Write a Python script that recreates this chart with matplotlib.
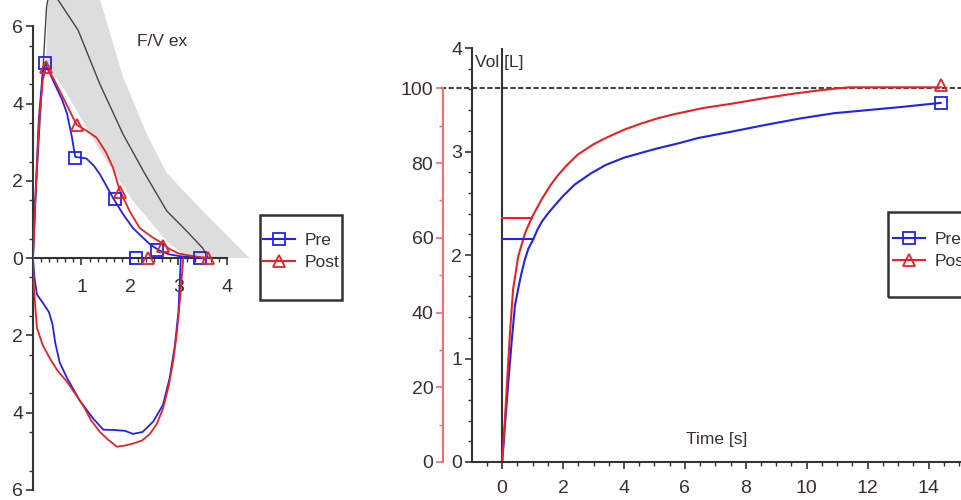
#!/usr/bin/env python3
# -*- coding: utf-8 -*-

import matplotlib
matplotlib.use("Agg")

import matplotlib.pyplot as plt
from matplotlib.ticker import MultipleLocator, FixedLocator
from matplotlib.patches import Rectangle
from matplotlib.lines import Line2D

plt.rcParams['font.family'] = ['Liberation Sans', 'DejaVu Sans']

# ---- flow / volume loop (left) ----
pred_x = [0, 0.05, 0.28, 0.35, 0.93, 1.38, 1.86, 2.3, 2.76, 3.17, 3.5, 3.62]
pred_y = [0, 1.5, 6.5, 7.0, 5.9, 4.5, 3.2, 2.2, 1.22, 0.7, 0.26, 0.0]

band_x = [0.27, 0.33, 1.2, 1.38, 1.86, 2.35, 2.76, 3.44, 4.12, 4.47, 3.2, 2.76, 2.06, 1.38, 0.62, 0.27]
band_y = [5.0, 8.0, 8.0, 6.7, 4.68, 3.2, 2.2, 1.3, 0.44, 0.0, 0.0, 0.44, 1.48, 2.78, 4.42, 5.0]

fv_pre_x = [0, 0.05, 0.12, 0.2, 0.25, 0.45, 0.6, 0.7, 0.8, 0.87, 1.1, 1.25, 1.38, 1.5, 1.65,
            1.85, 2.06, 2.25, 2.41, 2.6, 2.8, 3.03, 3.3, 3.5]
fv_pre_y = [0, 1.6, 3.6, 4.8, 5.05, 4.5, 4.1, 3.75, 3.15, 2.62, 2.58, 2.4, 2.17, 1.9, 1.56,
            1.15, 0.78, 0.55, 0.36, 0.2, 0.1, 0.05, 0.02, 0]
fv_pre_mx = [0.25, 0.87, 1.69, 2.12, 2.55, 3.44]
fv_pre_my = [5.05, 2.6, 1.52, 0.0, 0.22, 0.0]

fv_post_x = [0, 0.05, 0.12, 0.2, 0.27, 0.4, 0.62, 0.8, 0.9, 1.1, 1.31, 1.5, 1.65, 1.79, 2.0,
             2.2, 2.45, 2.62, 2.8, 3.0, 3.3, 3.62]
fv_post_y = [0, 1.5, 3.4, 4.6, 4.95, 4.7, 4.16, 3.7, 3.45, 3.3, 3.12, 2.75, 2.34, 1.75, 1.2,
             0.78, 0.55, 0.42, 0.25, 0.12, 0.05, 0]
fv_post_mx = [0.27, 0.9, 1.79, 2.37, 2.68, 3.62]
fv_post_my = [4.95, 3.45, 1.72, 0.0, 0.31, 0.0]

ins_pre_x = [0, 0.03, 0.08, 0.2, 0.33, 0.4, 0.46, 0.55, 0.7, 0.97, 1.24, 1.45, 1.7, 1.9, 2.06,
             2.26, 2.48, 2.68, 2.82, 2.93, 3.0, 3.05]
ins_pre_y = [0, -0.5, -0.94, -1.15, -1.4, -1.7, -2.2, -2.7, -3.1, -3.7, -4.15, -4.44, -4.45,
             -4.47, -4.55, -4.5, -4.23, -3.8, -3.1, -2.23, -1.38, 0]

ins_post_x = [0, 0.02, 0.08, 0.2, 0.35, 0.5, 0.7, 1.03, 1.2, 1.38, 1.55, 1.73, 1.9, 2.06,
              2.25, 2.41, 2.55, 2.68, 2.8, 2.89, 2.97, 3.03, 3.1]
ins_post_y = [0, -0.8, -1.8, -2.25, -2.6, -2.9, -3.2, -3.8, -4.2, -4.5, -4.7, -4.88, -4.85,
              -4.8, -4.72, -4.55, -4.3, -3.9, -3.3, -2.68, -1.9, -1.1, 0]

fv_yticks = [-6, -4, -2, 0, 2, 4, 6]
fv_yticklabels = ['6', '4', '2', '0', '2', '4', '6']
fv_xticks = [1, 2, 3, 4]

# ---- volume / time (right) ----
t_pre = [0, 0.1, 0.21, 0.32, 0.42, 0.53, 0.64, 0.75, 0.86, 1.02, 1.15, 1.3, 1.5, 1.73, 2.0,
         2.38, 2.92, 3.4, 4.0, 4.6, 5.1, 5.8, 6.43, 7.5, 8.7, 9.8, 10.9, 12.0, 13.1, 14.4]
v_pre = [0, 0.38, 0.8, 1.19, 1.51, 1.68, 1.83, 1.96, 2.06, 2.15, 2.24, 2.32, 2.40, 2.48, 2.57,
         2.68, 2.79, 2.87, 2.94, 2.99, 3.03, 3.08, 3.13, 3.19, 3.26, 3.32, 3.37, 3.40, 3.43, 3.47]
t_post = [0, 0.09, 0.18, 0.25, 0.36, 0.53, 0.75, 0.97, 1.3, 1.6, 1.83, 2.1, 2.48, 3.0, 3.47,
          4.0, 4.56, 5.1, 5.64, 6.6, 7.5, 8.7, 9.6, 10.4, 11.0, 11.4, 12.5, 14.4]
v_post = [0, 0.41, 0.86, 1.22, 1.67, 1.99, 2.21, 2.36, 2.54, 2.68, 2.77, 2.86, 2.97, 3.07, 3.14,
          3.21, 3.27, 3.32, 3.36, 3.42, 3.46, 3.52, 3.56, 3.59, 3.61, 3.62, 3.62, 3.62]
pre_level = 2.15
post_level = 2.36
pre_level_end = 1.02
post_level_end = 0.97
end_t = 14.4
pre_end = 3.47
post_end = 3.64
vol_pred = 3.61  # 100 %

pct_ticks = [0, 20, 40, 60, 80, 100]

BLUE = '#2222ee'
RED = '#e82222'
TXT = '#3a2f2a'
AX = '#333333'
PCT = '#f07070'
FS = 14

fig = plt.figure(figsize=(9.62, 5.0), dpi=100)

# ================= left panel =================
ax1 = fig.add_axes([33/962, 0, 223/962, 1])
ax1.fill(band_x, band_y, color='#dddddd', lw=0, zorder=1)
ax1.plot(pred_x, pred_y, color='#444444', lw=1.0, zorder=2)
ax1.plot(ins_pre_x, ins_pre_y, color=BLUE, lw=1.3, zorder=3)
ax1.plot(ins_post_x, ins_post_y, color=RED, lw=1.3, zorder=3)
ax1.plot(fv_pre_x, fv_pre_y, color=BLUE, lw=1.3, zorder=3)
ax1.plot(fv_post_x, fv_post_y, color=RED, lw=1.3, zorder=3)
ax1.plot(fv_pre_mx, fv_pre_my, ls='none', marker='s', ms=8, mfc='none', mec=BLUE, mew=1.3, zorder=4)
ax1.plot(fv_post_mx, fv_post_my, ls='none', marker='^', ms=8, mfc='none', mec=RED, mew=1.3, zorder=4)
ax1.set_xlim(0, 4.6)
ax1.set_ylim(-6.26, 6.68)
for s in ['top', 'right']:
    ax1.spines[s].set_visible(False)
ax1.spines['bottom'].set_position(('data', 0))
ax1.spines['bottom'].set_bounds(0, 4)
ax1.spines['left'].set_bounds(-6, 6)
for s in ['bottom', 'left']:
    ax1.spines[s].set_color(AX)
    ax1.spines[s].set_linewidth(1.5)
ax1.set_yticks(fv_yticks)
ax1.set_yticklabels(fv_yticklabels)
ax1.yaxis.set_minor_locator(FixedLocator([v / 2 for v in range(-11, 12, 2)]))
ax1.set_xticks(fv_xticks)
ax1.xaxis.set_minor_locator(FixedLocator([i / 6 for i in range(1, 24) if i % 6]))
ax1.tick_params(axis='both', which='major', direction='out', length=5, width=1.2,
                colors=AX, labelcolor=TXT, labelsize=FS)
ax1.tick_params(axis='both', which='minor', direction='out', length=3, width=1.0, colors=AX)
ax1.tick_params(axis='y', pad=2)
ax1.tick_params(axis='x', pad=10)
ax1.patch.set_visible(False)
fig.text(162/962, 1 - 42/500, 'F/V ex', ha='center', va='center', fontsize=12.5, color=TXT)

# ================= right panel =================
ax = fig.add_axes([472/962, 38/500, 490/962, 414/500])
ax.plot(t_pre, v_pre, color=BLUE, lw=1.5)
ax.plot(t_post, v_post, color=RED, lw=1.5)
ax.plot([0, pre_level_end], [pre_level, pre_level], color=BLUE, lw=1.5)
ax.plot([0, post_level_end], [post_level, post_level], color=RED, lw=1.5)
ax.plot([end_t], [pre_end], ls='none', marker='s', ms=8, mfc='none', mec=BLUE, mew=1.3, clip_on=False)
ax.plot([end_t], [post_end], ls='none', marker='^', ms=8, mfc='none', mec=RED, mew=1.3, clip_on=False)
ax.plot([-2.0, 15.2], [vol_pred, vol_pred], color='#444444', lw=1.5, ls=(0, (2.5, 1.2)),
        clip_on=False, zorder=1)
ax.axvline(0, color=AX, lw=1.5, zorder=1)
ax.set_xlim(-0.99, 15.1)
ax.set_ylim(0, 4)
for s in ['top', 'right']:
    ax.spines[s].set_visible(False)
for s in ['bottom', 'left']:
    ax.spines[s].set_color(AX)
    ax.spines[s].set_linewidth(1.5)
ax.set_xticks(range(0, 15, 2))
ax.xaxis.set_minor_locator(MultipleLocator(0.5))
ax.set_yticks(range(0, 5))
ax.yaxis.set_minor_locator(MultipleLocator(0.2))
ax.tick_params(axis='both', which='major', direction='out', length=5, width=1.2,
               colors=AX, labelcolor=TXT, labelsize=FS)
ax.tick_params(axis='both', which='minor', direction='out', length=3, width=1.0, colors=AX)
ax.tick_params(axis='x', pad=8)
ax.tick_params(axis='y', pad=2)
ax.text(0.006, 0.966, 'Vol [L]', transform=ax.transAxes, ha='left', va='center',
        fontsize=12.5, color=TXT)
ax.text(0.5, 0.055, 'Time [s]', transform=ax.transAxes, ha='center', va='center',
        fontsize=12.5, color=TXT)

# percent axis
axp = ax.twinx()
axp.set_ylim(0, 100 * 4 / vol_pred)
for s in ['top', 'right', 'bottom']:
    axp.spines[s].set_visible(False)
axp.spines['left'].set_visible(True)
axp.spines['left'].set_position(('axes', -29/490))
axp.spines['left'].set_bounds(0, 100)
axp.spines['left'].set_color(PCT)
axp.spines['left'].set_linewidth(1.5)
axp.yaxis.set_ticks_position('left')
axp.yaxis.set_label_position('left')
axp.set_yticks(pct_ticks)
axp.yaxis.set_minor_locator(FixedLocator([10, 30, 50, 70, 90]))
axp.tick_params(axis='y', which='major', direction='out', length=5, width=1.2,
                colors=PCT, labelcolor=TXT, labelsize=FS, pad=2)
axp.tick_params(axis='y', which='minor', direction='out', length=3, width=1.0, colors=PCT)

# ---- legends ----
handles = [Line2D([], [], color=BLUE, lw=1.5, marker='s', ms=8, mfc='none', mec=BLUE, mew=1.3),
           Line2D([], [], color=RED, lw=1.5, marker='^', ms=8, mfc='none', mec=RED, mew=1.3)]
labels = ['Pre', 'Post']

for bx, by, bw, hx, hy in [(260, 215, 82, 263, 233), (888, 212, 90, 893, 232)]:
    fig.legend(handles, labels, frameon=False, loc='upper left',
               bbox_to_anchor=(hx/962, 1 - hy/500), borderaxespad=0, borderpad=0,
               handlelength=1.85, handletextpad=0.55, labelspacing=0.4,
               fontsize=12.5, labelcolor=TXT)
    fig.patches.append(Rectangle((bx/962, 1 - (by + 85)/500), bw/962, 85/500,
                                 fill=False, edgecolor=AX, lw=1.8, transform=fig.transFigure))

fig.savefig('out.png', dpi=100)
